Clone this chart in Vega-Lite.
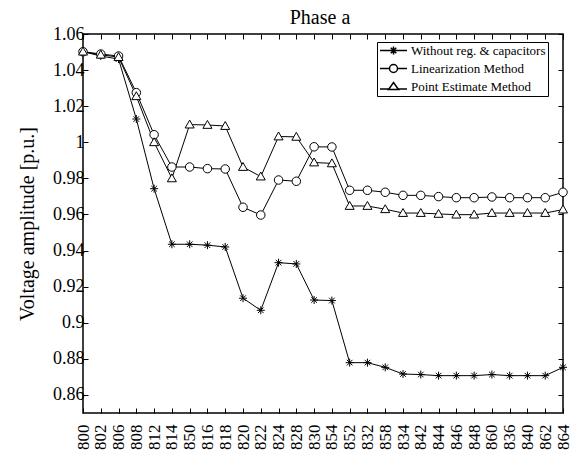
{
  "$schema": "https://vega.github.io/schema/vega-lite/v6.json",
  "width": 480,
  "height": 379,
  "autosize": "none",
  "padding": {"left": 83, "top": 34, "right": 11, "bottom": 42},
  "background": "white",
  "config": {
    "font": "Liberation Serif",
    "view": {"stroke": "black", "strokeWidth": 1.5},
    "axis": {"grid": false, "domain": false, "labelFont": "Liberation Serif", "titleFont": "Liberation Serif", "labelColor": "black", "titleColor": "black", "tickColor": "black", "titleFontWeight": "normal"}
  },
  "title": {"text": "Phase a", "font": "Liberation Serif", "fontSize": 20, "fontWeight": "normal", "offset": -3, "color": "black", "dx": -3},
  "data": {"values": [
    {"node":"800","s":"Without reg. & capacitors","v":1.0502},{"node":"802","s":"Without reg. & capacitors","v":1.0478},{"node":"806","s":"Without reg. & capacitors","v":1.0461},{"node":"808","s":"Without reg. & capacitors","v":1.0129},{"node":"812","s":"Without reg. & capacitors","v":0.9743},{"node":"814","s":"Without reg. & capacitors","v":0.9435},{"node":"850","s":"Without reg. & capacitors","v":0.9435},{"node":"816","s":"Without reg. & capacitors","v":0.943},{"node":"818","s":"Without reg. & capacitors","v":0.942},{"node":"820","s":"Without reg. & capacitors","v":0.9136},{"node":"822","s":"Without reg. & capacitors","v":0.9069},{"node":"824","s":"Without reg. & capacitors","v":0.9333},{"node":"828","s":"Without reg. & capacitors","v":0.9326},{"node":"830","s":"Without reg. & capacitors","v":0.9126},{"node":"854","s":"Without reg. & capacitors","v":0.9123},{"node":"852","s":"Without reg. & capacitors","v":0.8779},{"node":"832","s":"Without reg. & capacitors","v":0.8779},{"node":"858","s":"Without reg. & capacitors","v":0.8753},{"node":"834","s":"Without reg. & capacitors","v":0.8716},{"node":"842","s":"Without reg. & capacitors","v":0.8713},{"node":"844","s":"Without reg. & capacitors","v":0.8707},{"node":"846","s":"Without reg. & capacitors","v":0.8707},{"node":"848","s":"Without reg. & capacitors","v":0.8707},{"node":"860","s":"Without reg. & capacitors","v":0.8713},{"node":"836","s":"Without reg. & capacitors","v":0.8707},{"node":"840","s":"Without reg. & capacitors","v":0.8707},{"node":"862","s":"Without reg. & capacitors","v":0.8707},{"node":"864","s":"Without reg. & capacitors","v":0.8753},
    {"node":"800","s":"Linearization Method","v":1.0502},{"node":"802","s":"Linearization Method","v":1.0489},{"node":"806","s":"Linearization Method","v":1.0478},{"node":"808","s":"Linearization Method","v":1.0275},{"node":"812","s":"Linearization Method","v":1.0042},{"node":"814","s":"Linearization Method","v":0.9863},{"node":"850","s":"Linearization Method","v":0.9863},{"node":"816","s":"Linearization Method","v":0.9854},{"node":"818","s":"Linearization Method","v":0.9852},{"node":"820","s":"Linearization Method","v":0.964},{"node":"822","s":"Linearization Method","v":0.9597},{"node":"824","s":"Linearization Method","v":0.9791},{"node":"828","s":"Linearization Method","v":0.9784},{"node":"830","s":"Linearization Method","v":0.9975},{"node":"854","s":"Linearization Method","v":0.9974},{"node":"852","s":"Linearization Method","v":0.9734},{"node":"832","s":"Linearization Method","v":0.9734},{"node":"858","s":"Linearization Method","v":0.9723},{"node":"834","s":"Linearization Method","v":0.9706},{"node":"842","s":"Linearization Method","v":0.9706},{"node":"844","s":"Linearization Method","v":0.9699},{"node":"846","s":"Linearization Method","v":0.9693},{"node":"848","s":"Linearization Method","v":0.9693},{"node":"860","s":"Linearization Method","v":0.9697},{"node":"836","s":"Linearization Method","v":0.9693},{"node":"840","s":"Linearization Method","v":0.9693},{"node":"862","s":"Linearization Method","v":0.9693},{"node":"864","s":"Linearization Method","v":0.9723},
    {"node":"800","s":"Point Estimate Method","v":1.0502},{"node":"802","s":"Point Estimate Method","v":1.0485},{"node":"806","s":"Point Estimate Method","v":1.0472},{"node":"808","s":"Point Estimate Method","v":1.0255},{"node":"812","s":"Point Estimate Method","v":1.0},{"node":"814","s":"Point Estimate Method","v":0.98},{"node":"850","s":"Point Estimate Method","v":1.0098},{"node":"816","s":"Point Estimate Method","v":1.0096},{"node":"818","s":"Point Estimate Method","v":1.009},{"node":"820","s":"Point Estimate Method","v":0.9863},{"node":"822","s":"Point Estimate Method","v":0.981},{"node":"824","s":"Point Estimate Method","v":1.0032},{"node":"828","s":"Point Estimate Method","v":1.003},{"node":"830","s":"Point Estimate Method","v":0.9888},{"node":"854","s":"Point Estimate Method","v":0.9883},{"node":"852","s":"Point Estimate Method","v":0.9647},{"node":"832","s":"Point Estimate Method","v":0.9647},{"node":"858","s":"Point Estimate Method","v":0.9629},{"node":"834","s":"Point Estimate Method","v":0.9608},{"node":"842","s":"Point Estimate Method","v":0.9608},{"node":"844","s":"Point Estimate Method","v":0.9603},{"node":"846","s":"Point Estimate Method","v":0.9599},{"node":"848","s":"Point Estimate Method","v":0.9599},{"node":"860","s":"Point Estimate Method","v":0.9608},{"node":"836","s":"Point Estimate Method","v":0.9608},{"node":"840","s":"Point Estimate Method","v":0.9608},{"node":"862","s":"Point Estimate Method","v":0.9608},{"node":"864","s":"Point Estimate Method","v":0.9627}
  ]},
  "layer": [
    {
      "mark": {"type": "line", "color": "black", "strokeWidth": 1},
      "encoding": {
        "x": {"field": "node", "type": "ordinal", "scale": {"type": "point", "padding": 0},
              "sort": ["800","802","806","808","812","814","850","816","818","820","822","824","828","830","854","852","832","858","834","842","844","846","848","860","836","840","862","864"],
              "axis": {"orient": "bottom", "title": null, "labelAngle": 270, "labelFont": "Liberation Serif", "labelFontSize": 17, "tickSize": -5, "labelPadding": 16}},
        "y": {"field": "v", "type": "quantitative", "scale": {"domain": [0.85, 1.06], "nice": false, "zero": false},
              "axis": {"orient": "left", "title": "Voltage amplitude [p.u.]", "titleFont": "Liberation Serif", "titleFontSize": 20, "labelFont": "Liberation Serif", "labelFontSize": 18, "format": ".3~g", "values": [0.86,0.88,0.9,0.92,0.94,0.96,0.98,1,1.02,1.04,1.06], "tickSize": -5, "labelPadding": 4, "titlePadding": 15}},
        "detail": {"field": "s"}
      }
    },
    {
      "mark": {"type": "point", "filled": false, "fill": "white", "fillOpacity": 1, "stroke": "black", "strokeWidth": 1, "opacity": 1},
      "encoding": {
        "x": {"field": "node", "type": "ordinal", "sort": ["800","802","806","808","812","814","850","816","818","820","822","824","828","830","854","852","832","858","834","842","844","846","848","860","836","840","862","864"], "axis": {"orient": "top", "labels": false, "title": null, "tickSize": -5}},
        "y": {"field": "v", "type": "quantitative", "axis": {"orient": "right", "labels": false, "title": null, "tickSize": -5, "values": [0.86,0.88,0.9,0.92,0.94,0.96,0.98,1,1.02,1.04,1.06]}},
        "shape": {"field": "s", "type": "nominal", "legend": null,
                  "scale": {"domain": ["Without reg. & capacitors","Linearization Method","Point Estimate Method"],
                            "range": ["M-1,0H1M0,-1V1M-0.7,-0.7L0.7,0.7M-0.7,0.7L0.7,-0.7", "M-1,0A1,1 0 1,0 1,0A1,1 0 1,0 -1,0Z", "M0,-1L1,0.75L-1,0.75Z"]}},
        "size": {"field": "s", "type": "nominal", "legend": null,
                 "scale": {"domain": ["Without reg. & capacitors","Linearization Method","Point Estimate Method"], "range": [64, 81, 140]}}
      }
    },
    {
      "mark": {"type": "point", "filled": false, "stroke": "black", "opacity": 0, "size": 100},
      "encoding": {
        "x": {"field": "node", "type": "ordinal", "sort": ["800","802","806","808","812","814","850","816","818","820","822","824","828","830","854","852","832","858","834","842","844","846","848","860","836","840","862","864"], "axis": null},
        "y": {"field": "v", "type": "quantitative", "axis": null},
        "shape": {"field": "s", "type": "nominal",
                  "scale": {"domain": ["Without reg. & capacitors","Linearization Method","Point Estimate Method"],
                            "range": ["M-2.7,0H2.7M-0.8,0H0.8M0,-0.8V0.8M-0.55,-0.55L0.55,0.55M-0.55,0.55L0.55,-0.55", "M-2.7,0H-0.8M0.8,0H2.7M-0.8,0A0.8,0.8 0 1,0 0.8,0A0.8,0.8 0 1,0 -0.8,0Z", "M-2.7,0.5H-1M1,0.5H2.7M0,-0.8L1,0.6L-1,0.6Z"]},
                  "legend": {"title": null, "orient": "none", "legendX": 294, "legendY": 8, "strokeColor": "black", "fillColor": "white", "padding": 2,
                             "labelFont": "Liberation Serif", "labelFontSize": 13, "labelColor": "black", "symbolSize": 100, "labelOffset": 11, "rowPadding": 3, "symbolOffset": 8,
                             "encode": {"symbols": {"update": {"opacity": {"value": 1}, "strokeOpacity": {"value": 1}, "stroke": {"value": "black"}, "fill": {"value": "transparent"}, "strokeWidth": {"value": 1}}}}}}
      }
    }
  ],
  "resolve": {"scale": {"shape": "independent", "size": "independent"}, "axis": {"x": "independent", "y": "independent"}}
}
